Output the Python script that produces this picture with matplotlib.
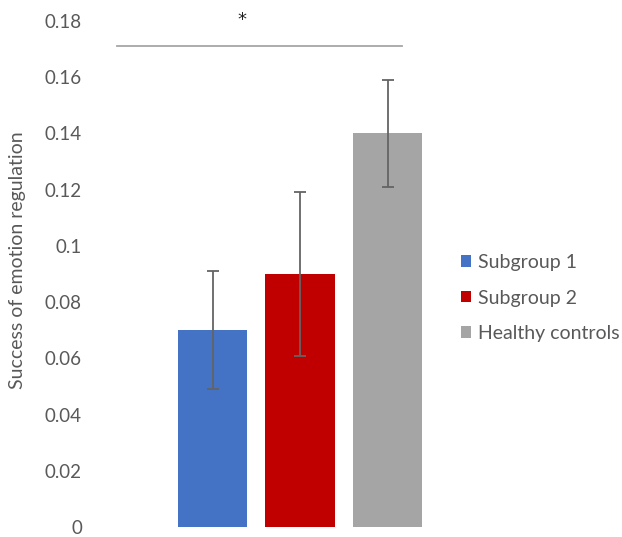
import matplotlib
matplotlib.use('Agg')
import matplotlib.pyplot as plt
from matplotlib.patches import Patch
import numpy as np

# data
groups = ['Subgroup 1', 'Subgroup 2', 'Healthy controls']
means = [0.07, 0.09, 0.14]
errors = [0.021, 0.029, 0.019]
colors = ['#4472C4', '#C00000', '#A5A5A5']
yticks = [0, 0.02, 0.04, 0.06, 0.08, 0.1, 0.12, 0.14, 0.16, 0.18]
ytick_labels = ['0', '0.02', '0.04', '0.06', '0.08', '0.1', '0.12', '0.14', '0.16', '0.18']

plt.rcParams['font.family'] = ['Lato', 'DejaVu Sans']
txt_col = '#595959'

W, H = 622, 537
fig = plt.figure(figsize=(W / 100, H / 100), dpi=100)
# axes box in pixels: left 100, right 440, top 21, bottom 527
ax = fig.add_axes([100 / W, (H - 527) / H, 340 / W, 506 / H])

x = np.arange(len(groups))
ax.bar(x, means, width=0.79, color=colors, zorder=2)
ax.errorbar(x, means, yerr=errors, fmt='none', ecolor='#646464',
            elinewidth=1.3, capsize=4.5, capthick=1.3, zorder=3)

ax.set_xlim(-1.286, 2.6)
ax.set_ylim(0, 0.18)
ax.set_yticks(yticks)
ax.set_yticklabels(ytick_labels, fontsize=13.5, color=txt_col)
ax.set_xticks([])
ax.tick_params(axis='y', length=0, pad=13)
for s in ax.spines.values():
    s.set_visible(False)

# significance line and star
ax.plot([-1.09, 2.166], [0.1711, 0.1711], color='#A6A6A6', lw=1.3,
        clip_on=False, zorder=1)
ax.text(0.337, 0.1805, '*', ha='center', va='center', fontsize=13,
        family='DejaVu Sans', color='#222222', clip_on=False)

fig.text(18 / W, (H - 260) / H, 'Success of emotion regulation', rotation=90,
         ha='center', va='center', fontsize=14, color=txt_col)

handles = [Patch(facecolor=c, edgecolor='none') for c in colors]
fig.legend(handles, groups, loc='center left',
           bbox_to_anchor=(443 / W, (H - 298) / H), frameon=False,
           fontsize=14, labelcolor=txt_col, handlelength=0.55,
           handleheight=0.55, handletextpad=0.35, labelspacing=0.95)

fig.savefig('out.png', dpi=100)
